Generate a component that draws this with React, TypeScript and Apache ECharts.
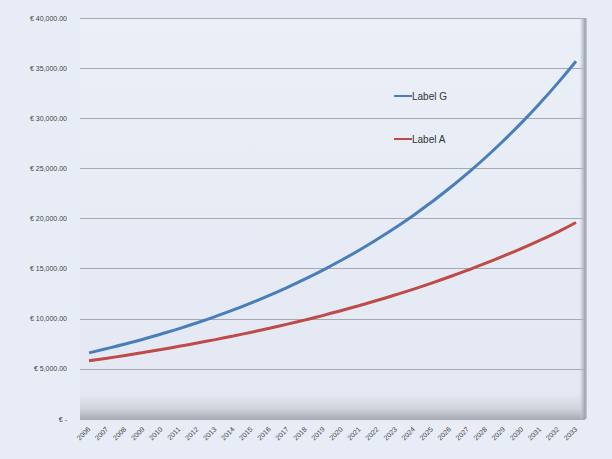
import React, { useEffect, useRef } from "react";
import * as echarts from "echarts";

const years: string[] = [
  "2006", "2007", "2008", "2009", "2010", "2011", "2012", "2013", "2014", "2015",
  "2016", "2017", "2018", "2019", "2020", "2021", "2022", "2023", "2024", "2025",
  "2026", "2027", "2028", "2029", "2030", "2031", "2032", "2033",
];

const labelG: number[] = [
  6600, 7030, 7480, 7960, 8480, 9020, 9600, 10220, 10880, 11590,
  12330, 13130, 13980, 14880, 15840, 16860, 17950, 19100, 20330, 21650,
  23040, 24530, 26110, 27800, 29590, 31500, 33530, 35690,
];

const labelA: number[] = [
  5800, 6060, 6340, 6630, 6930, 7250, 7580, 7920, 8280, 8660,
  9050, 9460, 9890, 10340, 10820, 11320, 11840, 12390, 12960, 13560,
  14190, 14850, 15540, 16270, 17030, 17830, 18670, 19600,
];

const yMax = 40000;
const yStep = 5000;

function fmtEuro(v: number): string {
  if (v === 0) return "€ -";
  return "€ " + v.toLocaleString("en-US", { minimumFractionDigits: 2, maximumFractionDigits: 2 });
}

export default function App() {
  const ref = useRef<HTMLDivElement>(null);
  useEffect(() => {
    document.body.style.margin = "0";
    const chart = echarts.init(ref.current!, null, { renderer: "svg" });
    const gridLeft = 80;
    const gridRight = 27;
    const gridTop = 18;
    const gridBottom = 40;
    chart.setOption({
      animation: false,
      backgroundColor: "#e7ecf6",
      textStyle: { fontFamily: "Liberation Sans, Arial, sans-serif" },
      grid: {
        left: gridLeft,
        right: gridRight,
        top: gridTop,
        bottom: gridBottom,
        show: true,
        borderWidth: 0,
        backgroundColor: {
          type: "linear",
          x: 0, y: 0, x2: 0, y2: 1,
          colorStops: [
            { offset: 0, color: "#eaeff8" },
            { offset: 0.94, color: "#e3e8f2" },
            { offset: 0.975, color: "#cfd3dc" },
            { offset: 1, color: "#a9acb5" },
          ],
        },
      },
      graphic: [
        {
          type: "rect",
          right: gridRight - 2,
          top: gridTop,
          shape: { width: 7, height: 459 - gridTop - gridBottom },
          style: {
            fill: {
              type: "linear",
              x: 0, y: 0, x2: 1, y2: 0,
              colorStops: [
                { offset: 0, color: "rgba(200,204,214,0.2)" },
                { offset: 0.7, color: "#9ea2ad" },
                { offset: 1, color: "#c9cdd6" },
              ],
            },
          },
          z: 5,
        },
      ],
      legend: {
        left: 389,
        top: 86,
        orient: "vertical",
        itemGap: 33,
        itemWidth: 18,
        itemHeight: 2,
        icon: "rect",
        textStyle: { fontSize: 10, color: "#333", padding: [0, 0, 0, -5] },
        data: ["Label G", "Label A"],
      },
      xAxis: {
        type: "category",
        data: years,
        boundaryGap: true,
        axisLine: { show: false },
        axisTick: { show: false },
        axisLabel: {
          rotate: 45,
          fontSize: 7,
          color: "#444",
          interval: 0,
          margin: 9,
        },
        splitLine: { show: false },
      },
      yAxis: {
        type: "value",
        min: 0,
        max: yMax,
        interval: yStep,
        axisLine: { show: false },
        axisTick: { show: false },
        axisLabel: {
          fontSize: 7,
          color: "#444",
          margin: 13,
          formatter: (v: number) => fmtEuro(v),
        },
        splitLine: { lineStyle: { color: "#a6a9b0", width: 1 } },
      },
      series: [
        {
          name: "Label G",
          type: "line",
          data: labelG,
          smooth: true,
          symbol: "none",
          lineStyle: { color: "#4a7ebb", width: 3 },
          itemStyle: { color: "#4a7ebb" },
          z: 3,
        },
        {
          name: "Label A",
          type: "line",
          data: labelA,
          smooth: true,
          symbol: "none",
          lineStyle: { color: "#be4b48", width: 3 },
          itemStyle: { color: "#be4b48" },
          z: 3,
        },
      ],
    });
    return () => chart.dispose();
  }, []);
  return <div ref={ref} style={{ width: 612, height: 459 }} />;
}
